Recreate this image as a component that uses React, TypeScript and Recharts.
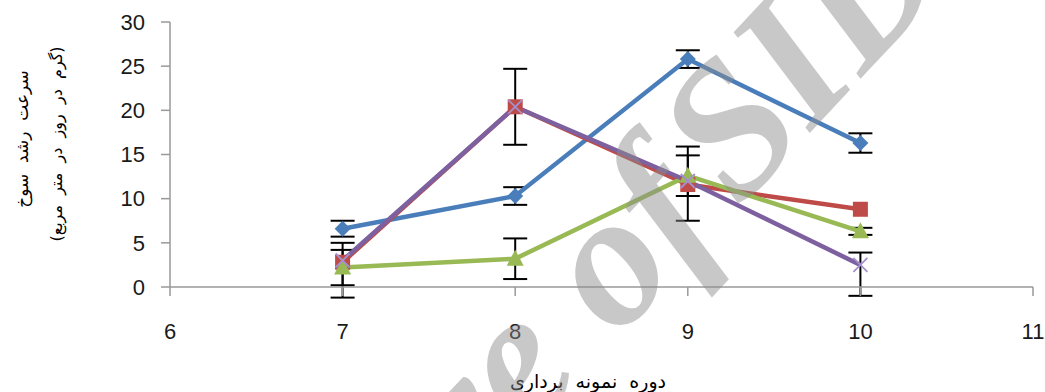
import { LineChart, Line, XAxis, YAxis, ErrorBar } from 'recharts';

// sampling periods on the x axis
const periods = [7, 8, 9, 10];

// growth rate per treatment, with [below, above] error extents (null = no bar)
const blueVals = [6.6, 10.3, 25.8, 16.3];
const blueErr = [[0.9, 0.9], [1.0, 1.0], [1.0, 1.0], [1.1, 1.1]];
const redVals = [2.8, 20.4, 11.6, 8.8];
const redErr = [[4.0, 2.2], [4.3, 4.3], [4.1, 3.3], null];
const greenVals = [2.2, 3.2, 12.6, 6.3];
const greenErr = [[2.0, 2.0], [2.3, 2.3], [2.3, 3.3], [0.4, 0.4]];
const purpleVals = [3.0, 20.4, 12.0, 2.5];
const purpleErr = [null, null, null, [3.5, 1.4]];

const xTicks = [6, 7, 8, 9, 10, 11];
const yTicks = [0, 5, 10, 15, 20, 25, 30];

// axis titles (gaps widened with no-break spaces)
const yTitle = 'سرعت\u00a0\u00a0رشد\u00a0\u00a0سوخ';
const yUnit = '(گرم\u00a0\u00a0در\u00a0\u00a0روز\u00a0\u00a0در\u00a0\u00a0متر\u00a0\u00a0مربع)';
const xTitle = 'دوره\u00a0\u00a0نمونه\u00a0\u00a0برداری';

const data = periods.map((p, i) => ({
  period: p,
  blue: blueVals[i],
  blueErr: blueErr[i],
  red: redVals[i],
  redErr: redErr[i],
  green: greenVals[i],
  greenErr: greenErr[i],
  purple: purpleVals[i],
  purpleErr: purpleErr[i],
}));

const BLUE = '#4a7ebb';
const RED = '#be4b48';
const GREEN = '#98b954';
const PURPLE = '#7d60a0';

const tickStyle = { fill: '#1a1a1a', fontSize: 22, fontFamily: 'Liberation Sans' };

const Diamond = (props: any) => {
  const { cx, cy } = props;
  if (cx == null || cy == null) return <g />;
  return <path d={`M${cx},${cy - 8}L${cx + 8},${cy}L${cx},${cy + 8}L${cx - 8},${cy}Z`} fill={BLUE} />;
};

const Square = (props: any) => {
  const { cx, cy } = props;
  if (cx == null || cy == null) return <g />;
  return <rect x={cx - 7.5} y={cy - 7.5} width={15} height={15} fill={RED} />;
};

const Triangle = (props: any) => {
  const { cx, cy } = props;
  if (cx == null || cy == null) return <g />;
  return <path d={`M${cx},${cy - 9}L${cx + 8.5},${cy + 7}L${cx - 8.5},${cy + 7}Z`} fill={GREEN} />;
};

const Cross = (props: any) => {
  const { cx, cy } = props;
  if (cx == null || cy == null) return <g />;
  return (
    <path
      d={`M${cx - 7},${cy - 7}L${cx + 7},${cy + 7}M${cx + 7},${cy - 7}L${cx - 7},${cy + 7}`}
      stroke="#a590cf"
      strokeWidth={1.8}
      fill="none"
    />
  );
};

const errProps = { direction: 'y' as const, width: 12, stroke: '#000', strokeWidth: 2 };

export default function App() {
  return (
    <div style={{ position: 'relative', width: 1045, height: 392, background: '#fff' }}>
      <style>{'body{margin:0}'}</style>
      <LineChart width={1045} height={392} data={data} margin={{ top: 22, right: 12, left: 90, bottom: 45 }}>
        <XAxis
          dataKey="period"
          type="number"
          domain={[6, 11]}
          ticks={xTicks}
          height={60}
          tickSize={9}
          tickMargin={27}
          tick={tickStyle}
          axisLine={{ stroke: '#999', strokeWidth: 1.5 }}
          tickLine={{ stroke: '#999', strokeWidth: 1.5 }}
        />
        <YAxis
          domain={[0, 30]}
          allowDataOverflow
          ticks={yTicks}
          width={80}
          tickSize={9}
          tickMargin={16}
          tick={tickStyle}
          axisLine={{ stroke: '#999', strokeWidth: 1.5 }}
          tickLine={{ stroke: '#999', strokeWidth: 1.5 }}
        />
        <Line dataKey="blue" type="linear" stroke={BLUE} strokeWidth={4.5} dot={Diamond} isAnimationActive={false}>
          <ErrorBar dataKey="blueErr" {...errProps} />
        </Line>
        <Line dataKey="red" type="linear" stroke={RED} strokeWidth={4.5} dot={Square} isAnimationActive={false}>
          <ErrorBar dataKey="redErr" {...errProps} />
        </Line>
        <Line dataKey="green" type="linear" stroke={GREEN} strokeWidth={4.5} dot={Triangle} isAnimationActive={false}>
          <ErrorBar dataKey="greenErr" {...errProps} />
        </Line>
        <Line dataKey="purple" type="linear" stroke={PURPLE} strokeWidth={4.5} dot={Cross} isAnimationActive={false}>
          <ErrorBar dataKey="purpleErr" {...errProps} />
        </Line>
      </LineChart>
      <svg width={1045} height={392} style={{ position: 'absolute', left: 0, top: 0, pointerEvents: 'none' }}>
        {/* axis titles */}
        <g fontFamily="DejaVu Sans" fill="#000" textAnchor="middle" dominantBaseline="central">
          <text x={22} y={139} fontSize={17} transform="rotate(-90 22 139)">{yTitle}</text>
          <text x={56} y={144} fontSize={16} transform="rotate(-90 56 144)">{yUnit}</text>
          <text x={588} y={381} fontSize={19}>{xTitle}</text>
        </g>
        {/* watermark */}
        <g
          fontFamily="Liberation Serif"
          fontStyle="italic"
          fontWeight="bold"
          fontSize={190}
          fill="#8c8c8c"
          opacity={0.47}
          transform="rotate(-47 739 209)"
        >
          <text x={719} y={209} textAnchor="end">Archive of</text>
          <text x={739} y={209} textAnchor="start">SID</text>
        </g>
      </svg>
    </div>
  );
}
